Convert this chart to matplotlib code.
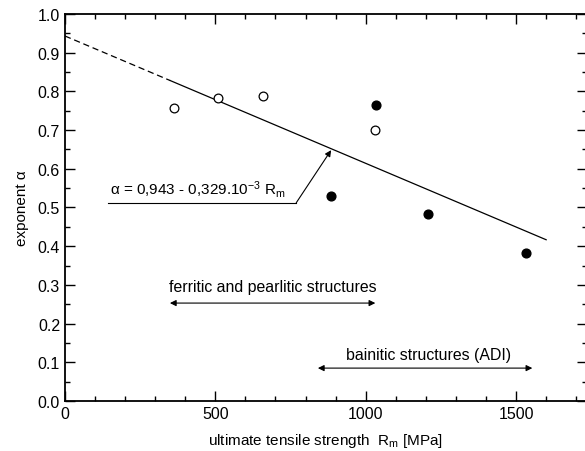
import numpy as np
import matplotlib.pyplot as plt
from matplotlib.ticker import MultipleLocator

plt.rcParams['font.family'] = ['Liberation Sans', 'DejaVu Sans']
plt.rcParams['mathtext.fontset'] = 'custom'
plt.rcParams['mathtext.rm'] = 'Liberation Sans'
plt.rcParams['mathtext.it'] = 'Liberation Sans'

# measured values
open_rm = [362, 508, 657, 1031]
open_alpha = [0.757, 0.783, 0.788, 0.701]
full_rm = [1033, 884, 1206, 1533]
full_alpha = [0.765, 0.529, 0.483, 0.382]

# fitted line alpha = a - b * Rm
a, b = 0.943, 0.329e-3
rm_dash = np.array([0, 350])
rm_solid = np.array([350, 1600])

fig = plt.figure(figsize=(5.85, 4.52), dpi=100)
ax = fig.add_axes([0.111, 0.1106, 0.892, 0.8564])

ax.plot(rm_dash, a - b * rm_dash, color='black', lw=0.9, ls=(0, (5, 3)))
ax.plot(rm_solid, a - b * rm_solid, color='black', lw=0.9)

ax.plot(open_rm, open_alpha, 'o', mfc='white', mec='black', ms=6.3, mew=0.9)
ax.plot(full_rm, full_alpha, 'o', mfc='black', mec='black', ms=6.3)

# equation label with underline and arrow
ax.text(150, 0.548, 'α = 0,943 - 0,329.10$\\mathregular{^{-3}}$ R$\\mathregular{_m}$',
        fontsize=11, va='center', ha='left')
ax.plot([143, 769], [0.512, 0.512], color='black', lw=0.8)
ax.annotate('', xy=(885, 0.648), xytext=(769, 0.512),
            arrowprops=dict(arrowstyle='-|>', color='black', lw=0.8,
                            mutation_scale=9, shrinkA=0, shrinkB=0))

# structure ranges
ax.annotate('', xy=(349, 0.253), xytext=(1032, 0.253),
            arrowprops=dict(arrowstyle='<|-|>', color='black', lw=0.8,
                            mutation_scale=9, shrinkA=0, shrinkB=0))
ax.text(690, 0.295, 'ferritic and pearlitic structures', fontsize=11.4,
        ha='center', va='center')
ax.annotate('', xy=(841, 0.085), xytext=(1554, 0.085),
            arrowprops=dict(arrowstyle='<|-|>', color='black', lw=0.8,
                            mutation_scale=9, shrinkA=0, shrinkB=0))
ax.text(1209, 0.121, 'bainitic structures (ADI)', fontsize=11.4,
        ha='center', va='center')

ax.set_xlim(0, 1735)
ax.set_ylim(0, 1.0)
ax.xaxis.set_major_locator(MultipleLocator(500))
ax.xaxis.set_minor_locator(MultipleLocator(100))
ax.yaxis.set_major_locator(MultipleLocator(0.1))
ax.yaxis.set_minor_locator(MultipleLocator(0.05))
ax.yaxis.set_major_formatter(plt.FormatStrFormatter('%.1f'))
ax.tick_params(which='both', direction='in', top=True, right=True,
               labelsize=11.5, width=1.0)
ax.tick_params(which='major', length=7)
ax.tick_params(which='minor', length=3.5)
for s in ax.spines.values():
    s.set_linewidth(1.3)

ax.set_xlabel('ultimate tensile strength  R$\\mathregular{_m}$ [MPa]', fontsize=11,
              labelpad=7)
ax.set_ylabel('exponent α', fontsize=11, labelpad=6)

fig.savefig('out.png', dpi=100)
